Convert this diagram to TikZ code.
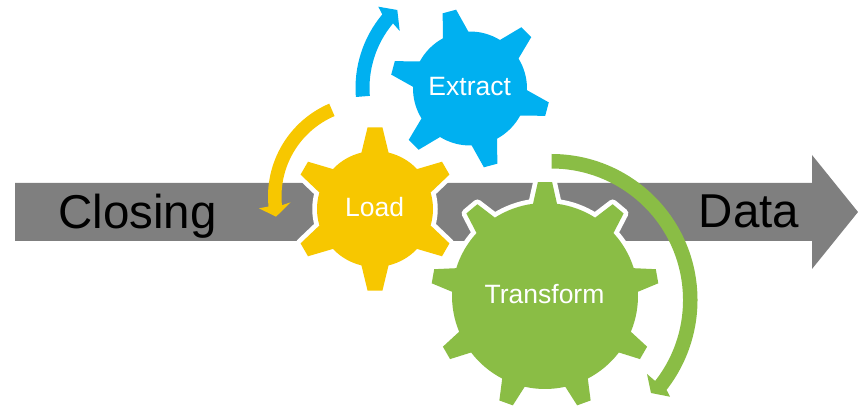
\documentclass[tikz,border=0pt]{standalone}
\usepackage{fontspec}
\setmainfont{Liberation Sans}
\usetikzlibrary{calc}
\definecolor{cgray}{HTML}{7F7F7F}
\definecolor{cblue}{HTML}{00B0F0}
\definecolor{cyellow}{HTML}{F7C700}
\definecolor{cgreen}{HTML}{8ABD45}
\newcommand{\gearat}[9]{% cx,cy,n,phase,r,R,base half angle,tip half angle,style
  \path[shift={(#1,#2)},#9]
    ({#4-#7}:#5)
    \foreach \k in {1,...,#3} {
      -- ({#4+(\k-1)*360/#3-#8}:#6)
      -- ({#4+(\k-1)*360/#3+#8}:#6)
      -- ({#4+(\k-1)*360/#3+#7}:#5)
      arc[start angle={#4+(\k-1)*360/#3+#7},end angle={#4+\k*360/#3-#7},radius=#5]
    } -- cycle;
}
\tikzset{
  halo/.style={preaction={draw=white,line width=9.5pt,line join=round}},
  big/.style={font=\fontsize{47.5}{50}\selectfont,text=black,anchor=base,inner sep=0pt},
  small/.style={font=\fontsize{26.5}{30}\selectfont,text=white,anchor=base,inner sep=0pt},
}
\begin{document}
\begin{tikzpicture}[x=1pt,y=1pt]
\useasboundingbox (0,0) rectangle (858,409);
% grey block arrow
\fill[cgray] (15,168) -- (812,168) -- (812,140) -- (858,197) -- (812,254) -- (812,226) -- (15,226) -- cycle;
% gears
\gearat{470}{320.5}{6}{105}{57}{80}{13.3}{5.0}{fill=cblue}
\gearat{545}{113}{9}{90}{93}{114}{7.4}{3.6}{fill=cgreen,halo}
\gearat{375}{200}{6}{90}{58}{82}{13.5}{5.2}{fill=cyellow,halo}
% curved arrows
\coordinate (cb) at (470,321);
\fill[cblue] ($(cb)+(184.5:114.5)$) arc[start angle=184.5,end angle=140,radius=114.5]
  -- (378.3,402.3) -- (397.3,399) -- (399.7,378)
  -- ($(cb)+(140:100.5)$) arc[start angle=140,end angle=184.5,radius=100.5] -- cycle;
\coordinate (cy) at (369,212.5);
\fill[cyellow] ($(cy)+(113.2:101)$) arc[start angle=113.2,end angle=185.7,radius=101]
  -- (259,200.7) -- (276,192.3) -- (290.7,206.7)
  -- ($(cy)+(185.7:87.5)$) arc[start angle=185.7,end angle=113.2,radius=87.5] -- cycle;
\coordinate (cg) at (551.5,109);
\fill[cgreen] ($(cg)+(90:146)$) arc[start angle=90,end angle=-38,radius=146]
  -- (670,12.3) -- (651,16) -- (647,35)
  -- ($(cg)+(-38:131.5)$) arc[start angle=-38,end angle=90,radius=131.5] -- cycle;
% labels
\node[big] (closing) at (137.5,180) {Closing};
\node[big] (data) at (749,181) {Data};
\node[small] (extract) at (469.7,313) {Extract};
\node[small] (load) at (374.7,192.3) {Load};
\node[small] (transform) at (544.5,105) {Transform};
\end{tikzpicture}
\end{document}
